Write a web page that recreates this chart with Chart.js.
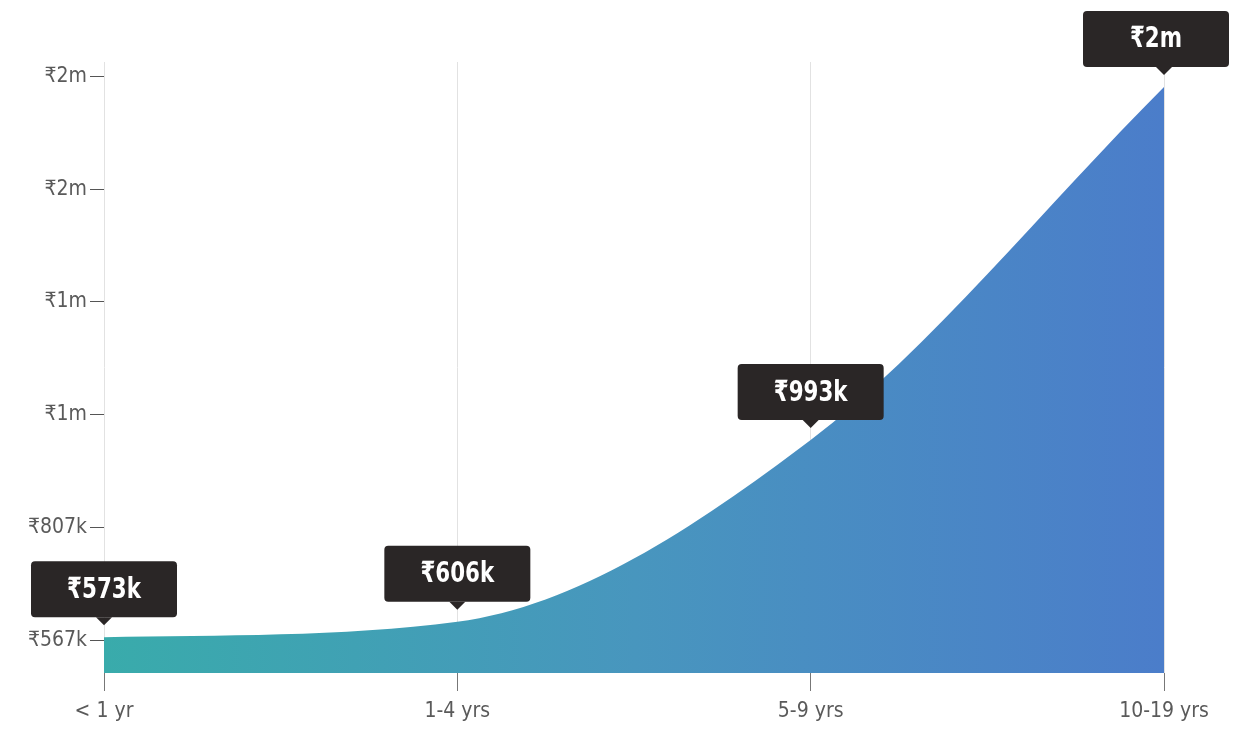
<!DOCTYPE html>
<html>
<head>
<meta charset="utf-8">
<script src="https://cdn.jsdelivr.net/npm/chart.js@4.4.1/dist/chart.umd.min.js"></script>
<style>
  html, body { margin: 0; padding: 0; background: #fff; }
  #wrap { width: 1233px; height: 754px; }
</style>
</head>
<body>
<div id="wrap"><canvas id="salaryChart"></canvas></div>
<script>
// Experience buckets and median pay for each
const categories = ["< 1 yr", "1-4 yrs", "5-9 yrs", "10-19 yrs"];
const salaries = [573000, 606000, 993000, 1745000];

// Y axis tick values
const tickValues = [567000, 807000, 1047000, 1287000, 1527000, 1767000];
const yMin = 497000;
const yMax = 1798000;

const FONT = "'DejaVu Sans Condensed', 'Noto Sans', sans-serif";

function rupees(v) {
  if (v >= 1000000) return "₹" + Math.round(v / 1000000) + "m";
  return "₹" + Math.round(v / 1000) + "k";
}

// Dark value boxes with a little pointer above each point
const valueBoxes = {
  id: "valueBoxes",
  afterDatasetsDraw(chart) {
    const ctx = chart.ctx;
    const meta = chart.getDatasetMeta(0);
    const w = 146, h = 56, gap = 12, arrow = 8;
    ctx.save();
    meta.data.forEach((pt, i) => {
      const cx = pt.x;
      const left = Math.min(Math.max(cx - w / 2, 28), chart.width - w - 4);
      const bottom = pt.y - gap - arrow;
      const top = bottom - h;
      ctx.fillStyle = "#2a2626";
      ctx.beginPath();
      ctx.roundRect(left, top, w, h, 4);
      ctx.fill();
      ctx.beginPath();
      ctx.moveTo(cx - arrow, bottom);
      ctx.lineTo(cx + arrow, bottom);
      ctx.lineTo(cx, bottom + arrow);
      ctx.closePath();
      ctx.fill();
      // narrow, tall label text
      ctx.save();
      ctx.translate(left + w / 2, top + h / 2 + 1);
      ctx.scale(0.82, 1);
      ctx.fillStyle = "#ffffff";
      ctx.font = "bold 29px " + FONT;
      ctx.textAlign = "center";
      ctx.textBaseline = "middle";
      ctx.fillText(rupees(salaries[i]), 0, 0);
      ctx.restore();
    });
    ctx.restore();
  }
};

const ctx = document.getElementById("salaryChart").getContext("2d");

new Chart(ctx, {
  type: "line",
  data: {
    labels: categories,
    datasets: [{
      data: salaries,
      fill: "start",
      borderWidth: 0,
      pointRadius: 0,
      cubicInterpolationMode: "monotone",
      backgroundColor: (c) => {
        const area = c.chart.chartArea;
        if (!area) return "#3fa0b0";
        const g = c.chart.ctx.createLinearGradient(area.left, 0, area.right, 0);
        g.addColorStop(0, "#39abab");
        g.addColorStop(0.5, "#4896be");
        g.addColorStop(1, "#4b7dca");
        return g;
      }
    }]
  },
  options: {
    responsive: true,
    maintainAspectRatio: false,
    animation: false,
    layout: { padding: { left: 0, right: 69, top: 62, bottom: 0 } },
    plugins: {
      legend: { display: false },
      tooltip: { enabled: false }
    },
    scales: {
      x: {
        offset: false,
        border: { display: false },
        grid: {
          color: "#e2e2e2",
          tickColor: "#777",
          tickLength: 18,
          drawOnChartArea: true
        },
        ticks: {
          color: "#5a5a5a",
          font: { family: FONT, size: 21 },
          padding: 8,
          maxRotation: 0
        },
        afterFit(scale) { scale.height = 81; }
      },
      y: {
        min: yMin,
        max: yMax,
        border: { display: false },
        grid: {
          drawOnChartArea: false,
          tickColor: "#555",
          tickLength: 14
        },
        ticks: {
          color: "#5a5a5a",
          font: { family: FONT, size: 21 },
          padding: 3,
          callback: (v) => rupees(v)
        },
        afterBuildTicks(scale) {
          scale.ticks = tickValues.map(v => ({ value: v }));
        },
        afterFit(scale) { scale.width = 104; }
      }
    }
  },
  plugins: [valueBoxes]
});
</script>
</body>
</html>
